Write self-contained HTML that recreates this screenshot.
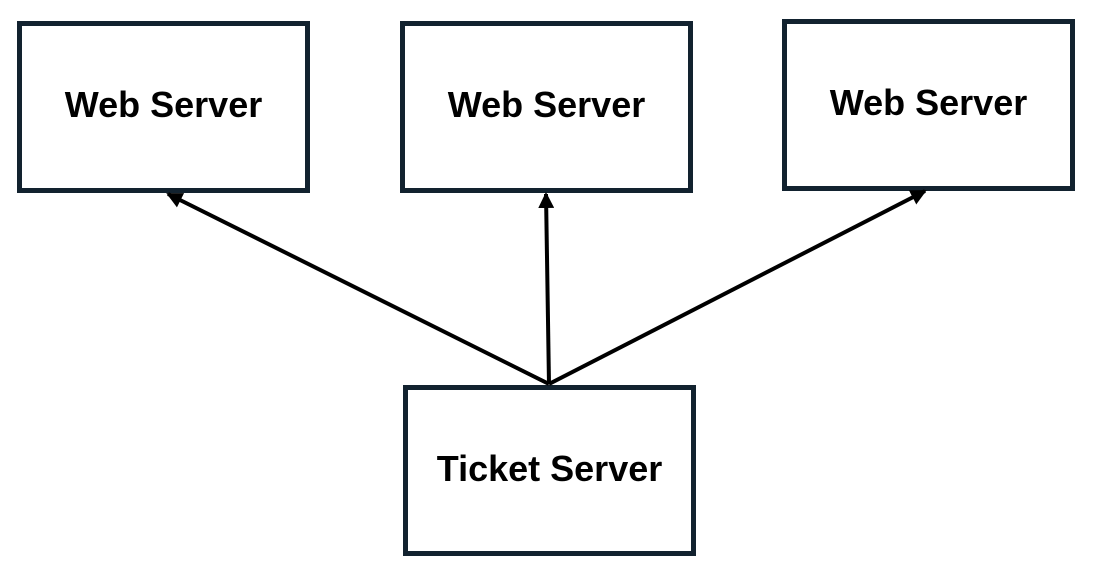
<!DOCTYPE html>
<html><head><style>
body{margin:0;width:1104px;height:588px;background:#fff;position:relative;overflow:hidden;font-family:"Liberation Sans","Noto Sans CJK KR",sans-serif}
.b{position:absolute;box-sizing:border-box;border:5px solid #12222f;width:293px;height:172px;display:flex;align-items:center;justify-content:center;font-weight:bold;font-size:36px;color:#000;background:#fff;padding-bottom:4px}
svg{position:absolute;left:0;top:0}
</style></head><body>
<div class="b" style="left:17px;top:21px">Web Server</div>
<div class="b" style="left:400px;top:21px">Web Server</div>
<div class="b" style="left:782px;top:19px">Web Server</div>
<div class="b" style="left:403px;top:385px;height:171px">Ticket Server</div>
<svg width="1104" height="588">
<defs><marker id="a" markerWidth="4" markerHeight="4" refX="3.5" refY="2" orient="auto" markerUnits="strokeWidth"><path d="M0,0L4,2L0,4z" fill="#000"/></marker></defs>
<g stroke="#000" stroke-width="4" fill="none" marker-end="url(#a)">
<line x1="549" y1="384" x2="168" y2="194"/>
<line x1="549" y1="384" x2="546" y2="194"/>
<line x1="549" y1="384" x2="925" y2="191"/>
</g>
</svg>
</body></html>
